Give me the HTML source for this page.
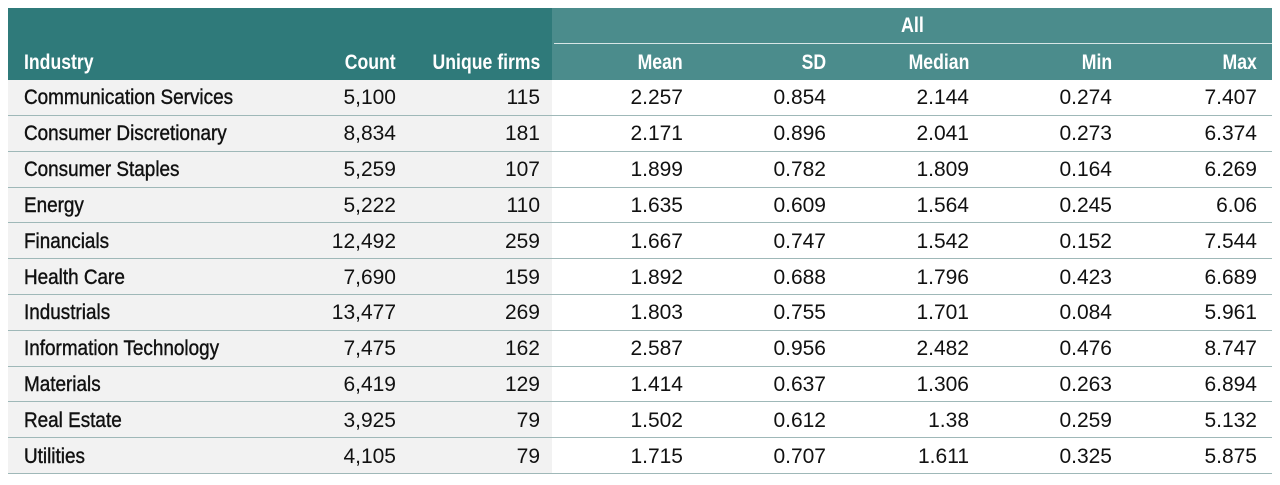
<!DOCTYPE html>
<html><head><meta charset="utf-8"><style>
body{margin:0;background:#fff;width:1280px;height:485px;overflow:hidden;font-family:"Liberation Sans",sans-serif;}
.wrap{position:absolute;left:8px;top:8px;width:1264px;}
.hl{position:absolute;left:0;top:0;width:544px;height:72px;background:#2f7a7a;}
.hr{position:absolute;left:544px;top:0;width:720px;height:72px;background:#4b8c8c;}
.hline{position:absolute;left:546px;top:35px;width:718px;height:1px;background:#d8e6e6;}
.all{position:absolute;left:544px;width:720px;top:6px;text-align:center;color:#fff;font-weight:bold;font-size:21px;}
.all span{display:inline-block;transform:scaleX(0.85);}
table{position:absolute;left:0;top:36px;border-collapse:collapse;width:1264px;font-size:21px;}
td{height:35.8px;padding:0;white-space:nowrap;box-sizing:border-box;}
td span{display:inline-block;transform-origin:left center;transform:scaleX(0.9);padding-top:2px;}
td.n span{transform-origin:right center;transform:none;}
thead td{color:#fff;font-weight:bold;}
thead td span{transform:scaleX(0.84)!important;}
tbody td{color:#111;border-bottom:1px solid #9fb8b8;}
tbody td.g{background:#f2f2f2;}
tbody td.g:first-child span{-webkit-text-stroke:0.4px #111;}
td.n{text-align:right;}
</style></head><body>
<div class="wrap">
<div class="hl"></div><div class="hr"></div><div class="hline"></div>
<div class="all"><span>All</span></div>
<table>
<colgroup><col style="width:260px"><col style="width:128px"><col style="width:144px"><col style="width:12px"><col style="width:131px"><col style="width:143px"><col style="width:143px"><col style="width:143px"><col style="width:145px"><col style="width:15px"></colgroup>
<thead><tr><td style="padding-left:16px"><span>Industry</span></td><td class="n"><span>Count</span></td><td class="n"><span>Unique firms</span></td><td></td><td class="n"><span>Mean</span></td><td class="n"><span>SD</span></td><td class="n"><span>Median</span></td><td class="n"><span>Min</span></td><td class="n"><span>Max</span></td><td></td></tr></thead>
<tbody>
<tr><td class="g" style="padding-left:16px"><span>Communication Services</span></td><td class="g n"><span>5,100</span></td><td class="g n"><span>115</span></td><td class="g"></td><td class="n"><span>2.257</span></td><td class="n"><span>0.854</span></td><td class="n"><span>2.144</span></td><td class="n"><span>0.274</span></td><td class="n"><span>7.407</span></td><td></td></tr>
<tr><td class="g" style="padding-left:16px"><span>Consumer Discretionary</span></td><td class="g n"><span>8,834</span></td><td class="g n"><span>181</span></td><td class="g"></td><td class="n"><span>2.171</span></td><td class="n"><span>0.896</span></td><td class="n"><span>2.041</span></td><td class="n"><span>0.273</span></td><td class="n"><span>6.374</span></td><td></td></tr>
<tr><td class="g" style="padding-left:16px"><span>Consumer Staples</span></td><td class="g n"><span>5,259</span></td><td class="g n"><span>107</span></td><td class="g"></td><td class="n"><span>1.899</span></td><td class="n"><span>0.782</span></td><td class="n"><span>1.809</span></td><td class="n"><span>0.164</span></td><td class="n"><span>6.269</span></td><td></td></tr>
<tr><td class="g" style="padding-left:16px"><span>Energy</span></td><td class="g n"><span>5,222</span></td><td class="g n"><span>110</span></td><td class="g"></td><td class="n"><span>1.635</span></td><td class="n"><span>0.609</span></td><td class="n"><span>1.564</span></td><td class="n"><span>0.245</span></td><td class="n"><span>6.06</span></td><td></td></tr>
<tr><td class="g" style="padding-left:16px"><span>Financials</span></td><td class="g n"><span>12,492</span></td><td class="g n"><span>259</span></td><td class="g"></td><td class="n"><span>1.667</span></td><td class="n"><span>0.747</span></td><td class="n"><span>1.542</span></td><td class="n"><span>0.152</span></td><td class="n"><span>7.544</span></td><td></td></tr>
<tr><td class="g" style="padding-left:16px"><span>Health Care</span></td><td class="g n"><span>7,690</span></td><td class="g n"><span>159</span></td><td class="g"></td><td class="n"><span>1.892</span></td><td class="n"><span>0.688</span></td><td class="n"><span>1.796</span></td><td class="n"><span>0.423</span></td><td class="n"><span>6.689</span></td><td></td></tr>
<tr><td class="g" style="padding-left:16px"><span>Industrials</span></td><td class="g n"><span>13,477</span></td><td class="g n"><span>269</span></td><td class="g"></td><td class="n"><span>1.803</span></td><td class="n"><span>0.755</span></td><td class="n"><span>1.701</span></td><td class="n"><span>0.084</span></td><td class="n"><span>5.961</span></td><td></td></tr>
<tr><td class="g" style="padding-left:16px"><span>Information Technology</span></td><td class="g n"><span>7,475</span></td><td class="g n"><span>162</span></td><td class="g"></td><td class="n"><span>2.587</span></td><td class="n"><span>0.956</span></td><td class="n"><span>2.482</span></td><td class="n"><span>0.476</span></td><td class="n"><span>8.747</span></td><td></td></tr>
<tr><td class="g" style="padding-left:16px"><span>Materials</span></td><td class="g n"><span>6,419</span></td><td class="g n"><span>129</span></td><td class="g"></td><td class="n"><span>1.414</span></td><td class="n"><span>0.637</span></td><td class="n"><span>1.306</span></td><td class="n"><span>0.263</span></td><td class="n"><span>6.894</span></td><td></td></tr>
<tr><td class="g" style="padding-left:16px"><span>Real Estate</span></td><td class="g n"><span>3,925</span></td><td class="g n"><span>79</span></td><td class="g"></td><td class="n"><span>1.502</span></td><td class="n"><span>0.612</span></td><td class="n"><span>1.38</span></td><td class="n"><span>0.259</span></td><td class="n"><span>5.132</span></td><td></td></tr>
<tr><td class="g" style="padding-left:16px"><span>Utilities</span></td><td class="g n"><span>4,105</span></td><td class="g n"><span>79</span></td><td class="g"></td><td class="n"><span>1.715</span></td><td class="n"><span>0.707</span></td><td class="n"><span>1.611</span></td><td class="n"><span>0.325</span></td><td class="n"><span>5.875</span></td><td></td></tr>
</tbody></table>
</div>
</body></html>
